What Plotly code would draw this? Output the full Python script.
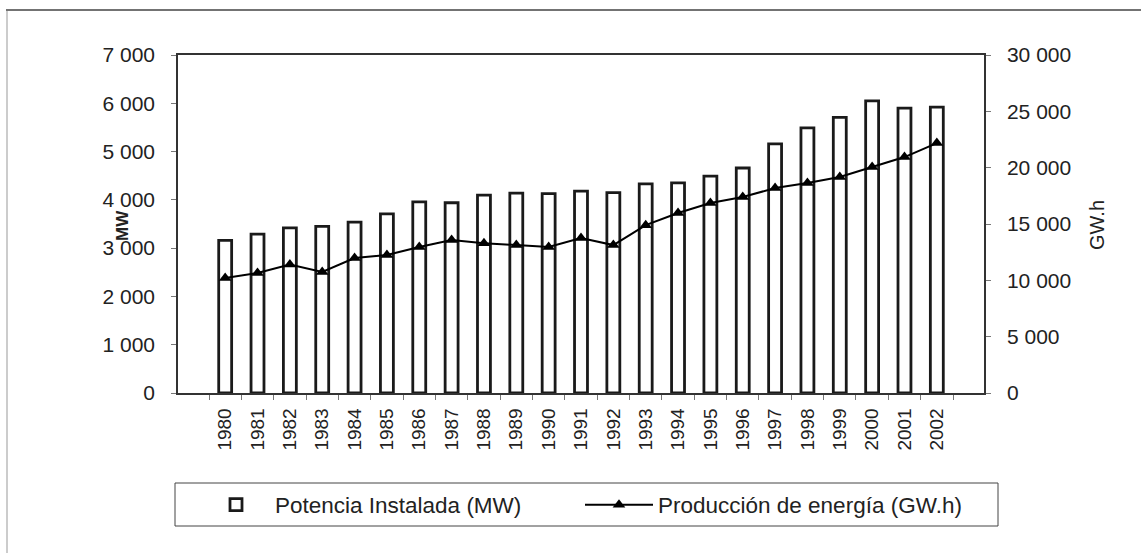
import plotly.graph_objects as go

years = [str(y) for y in range(1980, 2003)]
potencia_mw = [3160, 3290, 3420, 3450, 3540, 3710, 3960, 3940, 4100, 4140, 4130,
               4180, 4150, 4330, 4350, 4490, 4660, 5160, 5490, 5710, 6050, 5900, 5920]
produccion_gwh = [10200, 10650, 11400, 10750, 11980, 12250, 12960, 13580, 13300, 13130, 12960,
                  13750, 13130, 14900, 15970, 16860, 17390, 18190, 18630, 19170, 20050, 20940, 22180]

FONT = "Liberation Sans, Arial, sans-serif"
W, H = 1141, 553
L, R, T, B = 178, 157, 55, 160
pw, ph = W - L - R, H - T - B


def px(xp):
    return (xp - L) / pw


def py(yp):
    return (H - B - yp) / ph


fig = go.Figure()
fig.add_trace(go.Bar(
    x=years, y=potencia_mw, name="Potencia Instalada (MW)",
    marker=dict(color="white", line=dict(color="#1a1a1a", width=2.8)),
    yaxis="y",
))
fig.add_trace(go.Scatter(
    x=years, y=produccion_gwh, name="Producción de energía (GW.h)",
    mode="lines+markers",
    line=dict(color="black", width=2),
    marker=dict(symbol="triangle-up", size=11, color="black"),
    yaxis="y2",
))

fig.update_layout(
    width=W, height=H,
    margin=dict(l=L, r=R, t=T, b=B, pad=0),
    paper_bgcolor="white", plot_bgcolor="white",
    font=dict(family=FONT, size=20, color="#222"),
    separators=", ",
    bargap=0.6,
    showlegend=True,
    legend=dict(
        orientation="h", x=px(197), y=py(505), xanchor="left", yanchor="middle",
        borderwidth=0, bgcolor="rgba(0,0,0,0)",
        font=dict(family=FONT, size=22.5, color="#222"),
        itemwidth=68, entrywidth=300,
    ),
    xaxis=dict(
        type="category", showline=True, linecolor="#333", linewidth=1.5, mirror=True,
        ticks="outside", tickson="boundaries", ticklen=5, tickcolor="#777",
        tickangle=-90, tickfont=dict(size=19), showgrid=False, ticklabelstandoff=6,
    ),
    yaxis=dict(
        range=[0, 7000], dtick=1000, tickformat=",d", showline=True, linecolor="#333",
        linewidth=1.5, ticks="outside", ticklen=5, tickcolor="#777", showgrid=False,
        zeroline=False, ticklabelstandoff=12, tickfont=dict(size=21),
    ),
    yaxis2=dict(
        range=[0, 30000], dtick=5000, tickformat=",d", overlaying="y", side="right",
        showline=True, linecolor="#333", linewidth=1.5, ticks="outside", ticklen=5,
        tickcolor="#777", showgrid=False, zeroline=False, ticklabelstandoff=12,
        tickfont=dict(size=21),
    ),
    annotations=[
        dict(text="<b>MW</b>", x=px(122), y=py(226), xref="paper", yref="paper",
             xanchor="center", yanchor="middle", showarrow=False,
             textangle=-90, font=dict(size=17)),
        dict(text="GW.h", x=px(1097), y=py(225), xref="paper", yref="paper",
             xanchor="center", yanchor="middle", showarrow=False,
             textangle=-90, font=dict(size=20)),
    ],
)

# legend frame
fig.add_shape(type="rect", xref="paper", yref="paper", x0=px(175), x1=px(998),
              y0=py(526), y1=py(483), line=dict(color="#444", width=1))
# outer chart frame (top and left edges visible in the reference)
fig.add_shape(type="line", xref="paper", yref="paper", x0=px(6), x1=px(1141), y0=py(10), y1=py(10),
              line=dict(color="#444", width=1.5))
fig.add_shape(type="line", xref="paper", yref="paper", x0=px(7), x1=px(7), y0=py(11), y1=py(553),
              line=dict(color="#999", width=1))

fig.write_html("out.html", config={"displayModeBar": False},
               post_script="document.body.style.margin='0px';")
